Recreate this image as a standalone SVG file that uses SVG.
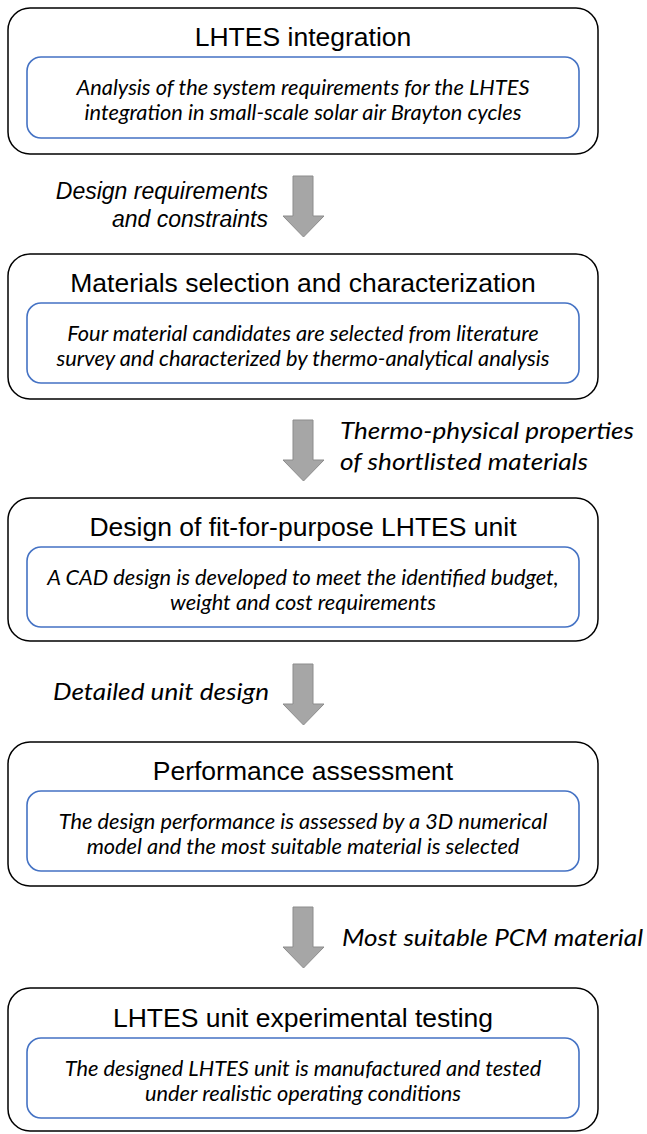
<svg xmlns="http://www.w3.org/2000/svg" width="647" height="1134" viewBox="0 0 647 1134">
  <style>
    .outer { fill: #ffffff; stroke: #000000; stroke-width: 1.5; }
    .inner { fill: #ffffff; stroke: #4472c4; stroke-width: 1.6; }
    .title { font-family: "Liberation Sans", Arial, sans-serif; font-size: 26.5px; fill: #000000; text-anchor: middle; }
    .body { font-family: Lato, "Open Sans", sans-serif; font-style: italic; font-size: 21.8px; fill: #000000; text-anchor: middle; }
    .flow { fill: #a6a6a6; stroke: #8c8c8c; stroke-width: 1; }
    .lbl { font-family: Lato, "Open Sans", sans-serif; font-style: italic; font-size: 23px; fill: #000000; }
    .lbl-arial { font-family: "Liberation Sans", Arial, sans-serif; font-style: italic; font-size: 23px; fill: #000000; text-anchor: end; }
  </style>
  <defs>
    <path id="down-arrow" d="M10,0 H30 V40 H41 L20.5,61 L0,40 H10 Z"/>
  </defs>

  <rect width="647" height="1134" fill="#ffffff"/>

  <g id="node-integration">
    <rect class="outer" x="8" y="8" width="590" height="146" rx="22"/>
    <text class="title" x="303" y="46">LHTES integration</text>
    <rect class="inner" x="27" y="57" width="552" height="81" rx="14"/>
    <text class="body" x="303" y="95">Analysis of the system requirements for the LHTES</text>
    <text class="body" x="303" y="120">integration in small-scale solar air Brayton cycles</text>
  </g>

  <g id="node-materials">
    <rect class="outer" x="8" y="254" width="590" height="145" rx="22"/>
    <text class="title" x="303" y="292">Materials selection and characterization</text>
    <rect class="inner" x="27" y="303" width="552" height="80" rx="14"/>
    <text class="body" x="303" y="341">Four material candidates are selected from literature</text>
    <text class="body" x="303" y="366">survey and characterized by thermo-analytical analysis</text>
  </g>

  <g id="node-design">
    <rect class="outer" x="8" y="498" width="590" height="143" rx="22"/>
    <text class="title" x="303" y="536">Design of fit-for-purpose LHTES unit</text>
    <rect class="inner" x="27" y="547" width="552" height="80" rx="14"/>
    <text class="body" x="303" y="585">A CAD design is developed to meet the identified budget,</text>
    <text class="body" x="303" y="610">weight and cost requirements</text>
  </g>

  <g id="node-performance">
    <rect class="outer" x="8" y="742" width="590" height="144" rx="22"/>
    <text class="title" x="303" y="780">Performance assessment</text>
    <rect class="inner" x="27" y="791" width="552" height="80" rx="14"/>
    <text class="body" x="303" y="829">The design performance is assessed by a 3D numerical</text>
    <text class="body" x="303" y="854">model and the most suitable material is selected</text>
  </g>

  <g id="node-testing">
    <rect class="outer" x="8" y="988" width="590" height="143" rx="22"/>
    <text class="title" x="303" y="1027">LHTES unit experimental testing</text>
    <rect class="inner" x="27" y="1038" width="552" height="80" rx="14"/>
    <text class="body" x="303" y="1076">The designed LHTES unit is manufactured and tested</text>
    <text class="body" x="303" y="1101">under realistic operating conditions</text>
  </g>

  <g id="connectors">
    <use href="#down-arrow" class="flow" x="283" y="176"/>
    <use href="#down-arrow" class="flow" x="283" y="420"/>
    <use href="#down-arrow" class="flow" x="283" y="664"/>
    <use href="#down-arrow" class="flow" x="283" y="907"/>
    <text class="lbl-arial" x="268" y="199">Design requirements</text>
    <text class="lbl-arial" x="268" y="227">and constraints</text>
    <text class="lbl" x="340" y="439" textLength="294" lengthAdjust="spacingAndGlyphs">Thermo-physical properties</text>
    <text class="lbl" x="340" y="470" textLength="248" lengthAdjust="spacingAndGlyphs">of shortlisted materials</text>
    <text class="lbl" x="53" y="700" textLength="216" lengthAdjust="spacingAndGlyphs">Detailed unit design</text>
    <text class="lbl" x="342" y="946" textLength="301" lengthAdjust="spacingAndGlyphs">Most suitable PCM material</text>
  </g>
</svg>
